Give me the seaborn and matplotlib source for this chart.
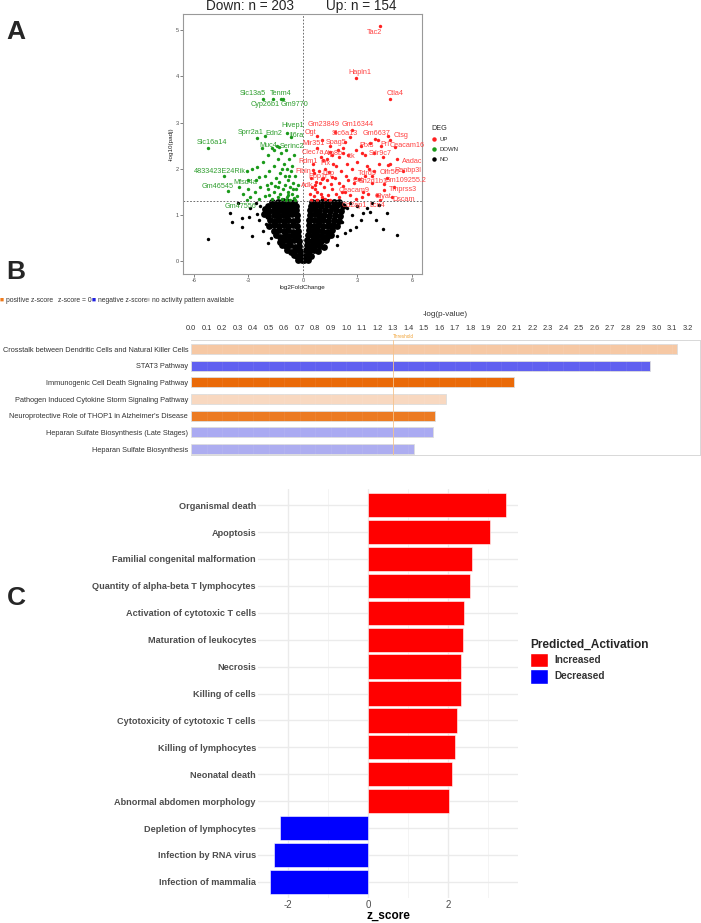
import numpy as np
import pandas as pd
import matplotlib
matplotlib.use("Agg")
from matplotlib import pyplot as plt
from matplotlib.patches import Patch
from matplotlib.lines import Line2D
import seaborn as sns

# ---------------- panel A: volcano ----------------
# labelled genes: name, log2FC, -log10(padj)
down_genes = ["Slc13a5", "Tenm4", "Cyp26b1", "Gm9770", "Hivep1", "Il6ra", "Sprr2a1", "Edn2",
              "Muc4", "Serinc2", "Slc16a14", "4833423E24Rik", "Mfsd4a", "Gm46545", "Gm47556"]
down_fc = [-2.2, -1.21, -1.67, -1.12, -0.86, -0.66, -2.51, -2.07,
           -1.58, -1.32, -5.25, -4.33, -3.04, -4.14, -3.1]
down_p = [3.51, 3.51, 3.51, 3.51, 2.78, 2.68, 2.67, 2.71,
          2.40, 2.46, 2.45, 1.84, 1.57, 1.52, 1.32]
up_genes = ["Tac2", "Hapln1", "Ctla4", "Gm23849", "Gm16344", "Ogt", "Slc6a13", "Gm6637", "Ctsg",
            "Mir351", "Spag5", "Ptx3", "Prl", "Ceacam16", "Clec7a", "Atp8b", "Itk", "Sdr9c7",
            "Aadac", "Rdm1", "Ftx", "Fibin", "Lbp", "Ppp1r", "Adk", "Tdrd9", "Olfr56", "Ranbp3l",
            "Cst", "Sh2d1b1", "Gm109255.2", "Tmprss3", "Ceacam9", "Glyat", "Dscam", "Cd2ap1", "Lcn4"]
up_fc = [4.24, 2.9, 4.79, 1.76, 2.68, 0.75, 2.59, 4.14, 4.7,
         1.03, 2.31, 3.96, 4.79, 5.06, 1.49, 1.94, 2.22, 3.23,
         5.16, 1.12, 1.67, 0.57, 1.58, 1.03, 0.66, 3.63, 4.68, 5.52,
         2.86, 3.8, 4.48, 4.48, 2.13, 4.06, 4.88, 3.23, 4.24]
up_p = [5.09, 3.97, 3.51, 2.79, 2.83, 2.71, 2.69, 2.62, 2.71,
        2.62, 2.58, 2.64, 2.62, 2.47, 2.37, 2.40, 2.33, 2.35,
        2.22, 2.19, 2.11, 1.97, 1.81, 1.77, 1.65, 2.0, 2.08, 1.95,
        1.80, 1.84, 1.66, 1.54, 1.50, 1.44, 1.39, 1.39, 1.32]

# unlabelled significant points
down_pts = [(-2.82, 2.0), (-2.55, 2.03), (-3.0, 1.75), (-2.43, 1.81), (-2.2, 2.15), (-1.95, 2.3),
            (-1.7, 2.45), (-1.45, 2.5), (-1.2, 2.35), (-0.95, 2.4), (-0.75, 2.2), (-0.6, 2.05),
            (-1.05, 2.1), (-1.35, 2.2), (-1.6, 2.05), (-1.85, 1.95), (-2.1, 1.85), (-2.35, 1.6),
            (-2.65, 1.5), (-2.9, 1.38), (-3.3, 1.45), (-3.5, 1.6), (-2.0, 1.65), (-1.75, 1.7),
            (-1.5, 1.8), (-1.25, 1.9), (-1.0, 1.85), (-0.8, 1.75), (-0.55, 1.7), (-0.4, 1.55),
            (-0.35, 1.4), (-0.6, 1.45), (-0.85, 1.5), (-1.1, 1.55), (-1.35, 1.6), (-1.6, 1.5),
            (-1.85, 1.42), (-2.1, 1.4), (-1.4, 1.38), (-1.15, 1.35), (-0.9, 1.38), (-0.7, 1.33),
            (-0.5, 1.36), (-1.7, 1.35), (-2.4, 1.35), (-1.0, 1.65), (-0.7, 1.6), (-1.3, 1.72),
            (-1.55, 1.62), (-0.45, 1.85), (-0.65, 1.95), (-0.9, 2.0), (-1.15, 2.0), (-2.6, 1.75),
            (-3.1, 1.95), (-2.25, 2.45), (-0.5, 2.3), (-0.3, 1.65), (-1.95, 1.55), (-0.8, 1.42),
            (-0.45, 1.32), (-0.95, 1.32), (-1.25, 1.45), (-0.55, 1.55), (-0.75, 1.85)]
up_pts = [(0.6, 1.4), (0.8, 1.5), (1.0, 1.45), (1.2, 1.35), (1.4, 1.42), (1.6, 1.55), (1.8, 1.45),
          (2.0, 1.38), (2.3, 1.5), (2.6, 1.42), (2.9, 1.35), (3.3, 1.5), (3.6, 1.45), (0.5, 1.6),
          (0.7, 1.72), (0.95, 1.68), (1.15, 1.6), (1.35, 1.75), (1.55, 1.66), (1.75, 1.8),
          (2.0, 1.7), (2.2, 1.62), (2.5, 1.75), (2.8, 1.68), (3.1, 1.78), (3.4, 1.85), (3.8, 1.7),
          (0.6, 1.9), (0.9, 1.95), (1.2, 2.0), (1.45, 1.92), (1.8, 2.05), (2.1, 1.95), (2.4, 2.1),
          (2.7, 2.0), (3.0, 2.15), (3.5, 2.05), (3.9, 1.95), (4.2, 2.1), (1.0, 2.25), (1.3, 2.2),
          (1.6, 2.3), (2.0, 2.25), (2.5, 2.3), (2.9, 2.4), (3.4, 2.3), (3.9, 2.35), (4.4, 2.25),
          (4.8, 2.1), (0.8, 2.45), (1.5, 2.5), (2.2, 2.45), (3.2, 2.5), (3.7, 2.55), (4.3, 2.5),
          (0.55, 2.1), (0.4, 1.45), (0.45, 1.8), (1.1, 1.8), (2.35, 1.85), (4.6, 1.8), (5.0, 1.6),
          (0.45, 1.33), (0.75, 1.32), (1.05, 1.38), (1.5, 1.33), (0.65, 1.55)]

# non-significant cloud
ns_pts = [
    (-0.05, 0.03), (-0.16, 0.05), (-0.27, 0.02), (-0.1, 0.13), (-0.32, 0.11), (-0.47, 0.14),
    (-0.14, 0.22), (-0.42, 0.24), (-0.66, 0.2), (-0.86, 0.23),
    (-0.2, 0.33), (-0.46, 0.31), (-0.71, 0.35), (-0.94, 0.32), (-1.17, 0.34),
    (-0.24, 0.44), (-0.52, 0.46), (-0.76, 0.43), (-1.02, 0.45), (-1.27, 0.42),
    (-0.26, 0.55), (-0.5, 0.57), (-0.77, 0.54), (-1.0, 0.56), (-1.26, 0.53), (-1.5, 0.56),
    (-0.3, 0.66), (-0.56, 0.64), (-0.81, 0.67), (-1.06, 0.65), (-1.31, 0.68), (-1.57, 0.65),
    (-0.31, 0.77), (-0.55, 0.79), (-0.82, 0.76), (-1.05, 0.78), (-1.32, 0.75), (-1.6, 0.78), (-1.86, 0.76),
    (-0.32, 0.88), (-0.56, 0.86), (-0.8, 0.89), (-1.07, 0.87), (-1.3, 0.9), (-1.56, 0.87), (-1.82, 0.89),
    (-0.35, 0.99), (-0.61, 1.01), (-0.86, 0.98), (-1.11, 1.0), (-1.36, 0.97), (-1.62, 1.0), (-1.9, 0.98), (-2.16, 1.01),
    (-0.36, 1.1), (-0.6, 1.12), (-0.87, 1.09), (-1.1, 1.11), (-1.36, 1.08), (-1.61, 1.11), (-1.86, 1.09), (-2.1, 1.12),
    (-0.41, 1.2), (-0.66, 1.22), (-0.9, 1.19), (-1.16, 1.21), (-1.4, 1.18), (-1.66, 1.21), (-1.91, 1.19),
    (-0.5, 1.28), (-0.8, 1.27), (-1.1, 1.29), (-1.4, 1.27), (-1.7, 1.28),
    (0.05, 0.02), (0.16, 0.04), (0.26, 0.03), (0.11, 0.12), (0.3, 0.14), (0.46, 0.11),
    (0.15, 0.23), (0.36, 0.21), (0.6, 0.24), (0.81, 0.22),
    (0.2, 0.34), (0.45, 0.32), (0.7, 0.35), (0.95, 0.33), (1.16, 0.31),
    (0.25, 0.45), (0.5, 0.43), (0.76, 0.46), (1.0, 0.44), (1.26, 0.46),
    (0.3, 0.56), (0.55, 0.54), (0.8, 0.57), (1.05, 0.55), (1.31, 0.53), (1.56, 0.56),
    (0.31, 0.67), (0.56, 0.65), (0.8, 0.68), (1.06, 0.66), (1.3, 0.64), (1.6, 0.67),
    (0.35, 0.78), (0.61, 0.76), (0.86, 0.79), (1.1, 0.77), (1.36, 0.75), (1.66, 0.78), (1.9, 0.76),
    (0.36, 0.88), (0.6, 0.9), (0.85, 0.87), (1.11, 0.89), (1.4, 0.86), (1.71, 0.89), (2.0, 0.87),
    (0.4, 0.99), (0.66, 1.01), (0.9, 0.98), (1.16, 1.0), (1.46, 0.97), (1.75, 1.0), (2.06, 0.98),
    (0.41, 1.1), (0.65, 1.12), (0.91, 1.09), (1.2, 1.11), (1.5, 1.08), (1.8, 1.11), (2.1, 1.09),
    (0.46, 1.2), (0.7, 1.22), (1.0, 1.19), (1.3, 1.21), (1.6, 1.18), (1.9, 1.21), (2.2, 1.19),
    (0.5, 1.28), (0.8, 1.27), (1.1, 1.29), (1.4, 1.27), (1.7, 1.28), (2.0, 1.27)]
ns_outliers = [
    (-5.21, 0.47), (-3.33, 0.73), (-3.38, 0.93), (-2.78, 0.54), (-2.55, 1.03), (-2.13, 1.12),
    (-2.4, 0.9), (-2.9, 1.15), (-3.6, 1.25), (-2.6, 1.25), (-1.9, 0.4), (-2.2, 0.65), (-2.35, 1.2),
    (-3.9, 0.85), (-4.0, 1.05), (-2.05, 0.8), (-1.75, 0.5), (-2.95, 0.95),
    (5.19, 0.56), (4.6, 1.05), (3.7, 1.07), (4.0, 0.89), (3.2, 0.89), (2.94, 0.74), (2.57, 0.67),
    (3.0, 1.2), (3.5, 1.15), (2.7, 1.0), (1.9, 0.35), (2.3, 0.6), (2.45, 1.15), (4.2, 1.22),
    (2.15, 0.85), (1.85, 0.55), (3.3, 1.05), (2.6, 1.25), (4.4, 0.7), (3.8, 1.25)]

# label offsets in pixels (layout only)
down_off = [(-10, 5), (0, 5), (-7, -6), (12, -6), (5, 7), (6, 2), (-7, 5), (8, 2),
            (-6, 5), (13, 1), (4, 5), (-4, 5), (-2, 6), (-10, 4), (-6, -6)]
up_off = [(-6, -6), (4, 5), (5, 5), (-11, 8), (6, 6), (-6, 3), (-5, 3), (-2, 7), (13, 0),
          (-8, -3), (-9, -1), (-8, -6), (-5, -4), (12, 2), (-17, -1), (-5, -3), (8, -3), (19, -1),
          (15, -3), (-15, -2), (-8, 0), (-10, -1), (-3, 4), (-4, 3), (-8, -1), (-2, -5), (2, -7), (5, 1),
          (3, -3), (1, -5), (21, 4), (19, 0), (12, 1), (6, -2), (12, -3), (-7, -9), (-3, -5)]

# ---------------- panel B: IPA canonical pathways ----------------
b_terms = ["Crosstalk between Dendritic Cells and Natural Killer Cells", "STAT3 Pathway",
           "Immunogenic Cell Death Signaling Pathway", "Pathogen Induced Cytokine Storm Signaling Pathway",
           "Neuroprotective Role of THOP1 in Alzheimer's Disease",
           "Heparan Sulfate Biosynthesis (Late Stages)", "Heparan Sulfate Biosynthesis"]
b_vals = [3.13, 2.96, 2.08, 1.64, 1.57, 1.56, 1.44]
b_colors = ["#F6C8A4", "#6060F0", "#EA6A08", "#F8D8C0", "#EC7B22", "#AAAAF2", "#ADADF0"]
b_ticks = [round(0.1 * i, 1) for i in range(33)]
threshold = 1.3

# ---------------- panel C: diseases & functions ----------------
c_terms = ["Organismal death", "Apoptosis", "Familial congenital malformation",
           "Quantity of alpha-beta T lymphocytes", "Activation of cytotoxic T cells",
           "Maturation of leukocytes", "Necrosis", "Killing of cells",
           "Cytotoxicity of cytotoxic T cells", "Killing of lymphocytes", "Neonatal death",
           "Abnormal abdomen morphology", "Depletion of lymphocytes", "Infection by RNA virus",
           "Infection of mammalia"]
c_z = [3.45, 3.03, 2.60, 2.55, 2.39, 2.36, 2.33, 2.33, 2.21, 2.17, 2.09, 2.01, -2.19, -2.33, -2.45]
c_act = ["Increased"] * 12 + ["Decreased"] * 3

sns.set_theme(style="white")
plt.rcParams['font.family'] = ['Liberation Sans', 'DejaVu Sans']
plt.rcParams['axes.unicode_minus'] = False
NARROW = ['Liberation Sans Narrow', 'Liberation Sans', 'DejaVu Sans']

fig = plt.figure(figsize=(7.01, 9.23), dpi=100)
W, H = 701, 923


def px_axes(x0, y0, x1, y1):
    return fig.add_axes([x0 / W, 1 - y1 / H, (x1 - x0) / W, (y1 - y0) / H])


# ---- A ----
axA = px_axes(183, 14, 422, 274)
ns = pd.DataFrame(ns_pts, columns=["fc", "p"])
sns.scatterplot(data=ns, x="fc", y="p", color="black", s=24, linewidth=0, ax=axA)
out = pd.DataFrame(ns_outliers, columns=["fc", "p"])
sns.scatterplot(data=out, x="fc", y="p", color="black", s=6, linewidth=0, ax=axA)
dn = pd.DataFrame(down_pts, columns=["fc", "p"])
up = pd.DataFrame(up_pts, columns=["fc", "p"])
sns.scatterplot(data=dn, x="fc", y="p", color="#1A9A1A", s=6, linewidth=0, ax=axA)
sns.scatterplot(data=up, x="fc", y="p", color="#FF2020", s=6, linewidth=0, ax=axA)
sns.scatterplot(x=down_fc, y=down_p, color="#1A9A1A", s=6, linewidth=0, ax=axA)
sns.scatterplot(x=up_fc, y=up_p, color="#FF2020", s=6, linewidth=0, ax=axA)
for g, x, y, o in zip(down_genes, down_fc, down_p, down_off):
    axA.annotate(g, (x, y), xytext=o, textcoords="offset pixels", fontsize=5.2,
                 color="#2E9E2E", ha="center", va="center")
for g, x, y, o in zip(up_genes, up_fc, up_p, up_off):
    axA.annotate(g, (x, y), xytext=o, textcoords="offset pixels", fontsize=5.2,
                 color="#FF4040", ha="center", va="center")
axA.axhline(1.3, color="#555555", ls=(0, (2, 2)), lw=0.6)
axA.axvline(0, color="#555555", ls=(0, (2, 2)), lw=0.6)
axA.set_xticks([-6, -3, 0, 3, 6])
axA.set_yticks([0, 1, 2, 3, 4, 5])
axA.set_xlim(-6.6, 6.55)
axA.set_ylim(-0.28, 5.35)
axA.tick_params(labelsize=4, colors="#4D4D4D", length=2, width=0.5, pad=1, left=True, bottom=True)
axA.set_xlabel("log2FoldChange", fontsize=4.5, labelpad=1, color="#222222")
axA.set_ylabel("-log10(padj)", fontsize=4.5, labelpad=1, color="#222222")
for s in axA.spines.values():
    s.set_color("#999999")
    s.set_linewidth(0.8)
fig.text(250 / W, 1 - 6 / H, "Down: n = 203", fontsize=9.8, ha="center", va="center")
fig.text(361 / W, 1 - 6 / H, "Up: n = 154", fontsize=9.8, ha="center", va="center")
deg_handles = [Line2D([], [], marker="o", ls="", color=c, markersize=2.2)
               for c in ["#FF2020", "#1A9A1A", "black"]]
leg = axA.legend(deg_handles, ["UP", "DOWN", "NO"], title="DEG", loc="upper left",
                 bbox_to_anchor=(426 / W, 1 - 120 / H), bbox_transform=fig.transFigure,
                 frameon=False, fontsize=4.3, title_fontsize=5.2, handletextpad=0.3,
                 labelspacing=0.8, handlelength=1)
leg._legend_box.align = "left"

# ---- B ----
axB = px_axes(191, 340, 700, 455)
sns.barplot(x=b_vals, y=b_terms, hue=b_terms, palette=b_colors, legend=False, orient="h",
            width=0.6, saturation=1, edgecolor="#DDDDDD", linewidth=0.6, ax=axB)
axB.xaxis.tick_top()
axB.xaxis.set_label_position("top")
axB.set_xticks(b_ticks)
axB.set_xticklabels([f"{t:.1f}" for t in b_ticks])
axB.set_xlim(0, 3.28)
axB.set_ylim(6.36, -0.54)
axB.tick_params(axis="x", labelsize=5.3, colors="#333333", length=0, pad=6)
axB.tick_params(axis="y", labelsize=5.3, colors="#333333", length=0, pad=2)
for lab in axB.get_xticklabels() + axB.get_yticklabels():
    lab.set_family(NARROW)
axB.set_xlabel("-log(p-value)", fontsize=5.8, labelpad=6, color="#333333", family=NARROW)
axB.set_ylabel("")
for t in b_ticks:
    axB.axvline(t, color="white", lw=0.4, alpha=0.12, zorder=3)
axB.axvline(threshold, color="#F5C28A", lw=0.6, zorder=4)
axB.text(threshold, -0.58, "Threshold", fontsize=3.3, color="#F0A030", va="bottom", ha="left")
for s in axB.spines.values():
    s.set_color("#D8D8D8")
    s.set_linewidth(0.7)
axB.spines["left"].set_visible(False)

# B legend line
leg_items = [("\u25A0", "#EE7A1C", 0), ("positive z-score", "#333333", 6),
             ("z-score = 0", "#333333", 58), ("\u25A0", "#2020E0", 92),
             ("negative z-score", "#333333", 98), ("\u25A0", "#C8C8C8", 146),
             ("no activity pattern available", "#333333", 152)]
for txt, col, xp in leg_items:
    fig.text(xp / W, 1 - 300 / H, txt, fontsize=4.9, color=col, va="center", ha="left",
             family=NARROW)

# ---- C ----
axC = px_axes(258, 489, 518, 898)
dfc = pd.DataFrame({"term": c_terms, "z_score": c_z, "Predicted_Activation": c_act})
axC.set_axisbelow(True)
sns.barplot(data=dfc, x="z_score", y="term", hue="Predicted_Activation",
            palette={"Increased": "#FF0000", "Decreased": "#0000FF"}, dodge=False, width=0.9,
            saturation=1, legend=False, edgecolor="#FFFFFF", linewidth=0.4, ax=axC)
axC.set_xticks([-2, 0, 2])
axC.set_xticks([-3, -1, 1, 3], minor=True)
axC.set_xlim(-2.74, 3.74)
axC.set_ylim(14.6, -0.6)
axC.grid(True, which="major", color="#EBEBEB", lw=1.0)
axC.grid(True, which="minor", axis="x", color="#F2F2F2", lw=0.6)
axC.tick_params(axis="both", which="both", length=0, labelsize=7, colors="#4D4D4D", pad=1.5)
for lab in axC.get_yticklabels():
    lab.set_fontweight("bold")
    lab.set_fontsize(6.6)
axC.set_ylabel("")
axC.set_xlabel("z_score", fontsize=8.5, fontweight="bold", color="black", labelpad=0)
sns.despine(ax=axC, left=True, bottom=True)
legC = fig.legend([Patch(facecolor="#FF0000", edgecolor="white"), Patch(facecolor="#0000FF", edgecolor="white")],
                  ["Increased", "Decreased"], title="Predicted_Activation", loc="upper left",
                  bbox_to_anchor=(527 / W, 1 - 636 / H), frameon=False, fontsize=7.2,
                  title_fontproperties={"weight": "bold", "size": 8.6}, handlelength=1.8,
                  handleheight=1.9, labelspacing=0.15, handletextpad=0.6, alignment="left",
                  borderaxespad=0, borderpad=0.3)
for t in legC.get_texts():
    t.set_fontweight("bold")
    t.set_color("#333333")

# panel letters
for letter, yy in [("A", 32), ("B", 272), ("C", 598)]:
    fig.text(16 / W, 1 - yy / H, letter, fontsize=19, fontweight="bold", ha="center", va="center")

fig.savefig("out.png", dpi=100)
